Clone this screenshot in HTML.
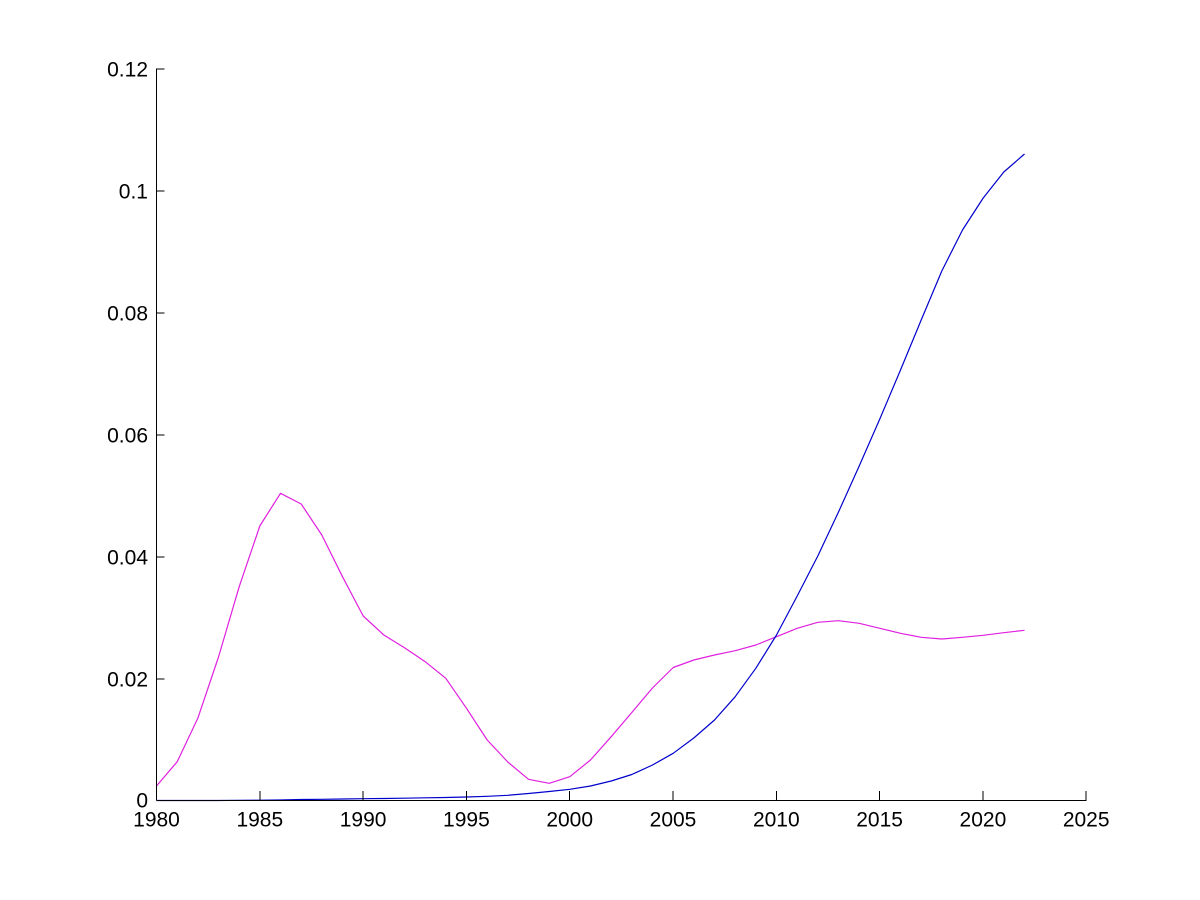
<!DOCTYPE html>
<html>
<head>
<meta charset="utf-8">
<style>
  html, body { margin: 0; padding: 0; background: #ffffff; }
  svg { display: block; }
  text { font-family: "Liberation Sans", Arial, sans-serif; font-size: 21px; fill: #000; }
</style>
</head>
<body>
<svg width="1200" height="900" viewBox="0 0 1200 900" xmlns="http://www.w3.org/2000/svg">
  <rect x="0" y="0" width="1200" height="900" fill="#ffffff"/>

  <!-- series: magenta -->
  <polyline fill="none" stroke="#e020e0" stroke-width="1.2" stroke-linejoin="round" points="
    156.5,786 177.2,761.7 197.8,718.3 218.5,657 239.2,586.7 259.8,526 280.5,493.3 301.2,504
    321.8,535 342.5,576.7 363.2,616 383.8,635 404.5,647.7 425.2,661.7 445.8,678.3 466.5,708.3
    487.2,740 507.8,762 528.5,779.3 549.2,783.3 569.8,776.7 590.5,760 611.2,736.7 631.8,712.5
    652.5,688 673.2,667.5 693.8,660 714.5,655 735.2,650.7 755.8,645 776.5,636.7 797.2,628.3
    817.8,622.3 838.5,620.7 859.2,623.3 879.8,628.3 900.5,633.3 921.2,637.3 941.8,639 962.5,637.3
    983.2,635.3 1003.8,632.7 1024.5,630.3"/>

  <!-- series: blue -->
  <polyline fill="none" stroke="#0000cc" stroke-width="1.2" stroke-linejoin="round" points="
    156.5,800.5 177.2,800.5 197.8,800.5 218.5,800.5 239.2,800.3 259.8,800.2 280.5,800 301.2,799.5
    321.8,799.3 342.5,799 363.2,798.7 383.8,798.5 404.5,798.2 425.2,797.8 445.8,797.5 466.5,797
    487.2,796.3 507.8,795.3 528.5,793.5 549.2,791.5 569.8,789.3 590.5,786 611.2,781 631.8,774.5
    652.5,765 673.2,753.3 693.8,738 714.5,720 735.2,696.7 755.8,668.3 776.5,635 797.2,596
    817.8,556 838.5,512 859.2,466 879.8,419 900.5,370 921.2,320 941.8,271 962.5,230
    983.2,198 1003.8,172 1024.5,154"/>

  <!-- axes -->
  <g stroke="#000" stroke-width="1" shape-rendering="crispEdges">
    <line x1="156.5" y1="68.5" x2="156.5" y2="800.5"/>
    <line x1="156.5" y1="800.5" x2="1086.5" y2="800.5"/>
    <!-- y ticks -->
    <line x1="156.5" y1="69" x2="164.5" y2="69"/>
    <line x1="156.5" y1="191" x2="164.5" y2="191"/>
    <line x1="156.5" y1="313" x2="164.5" y2="313"/>
    <line x1="156.5" y1="435" x2="164.5" y2="435"/>
    <line x1="156.5" y1="557" x2="164.5" y2="557"/>
    <line x1="156.5" y1="679" x2="164.5" y2="679"/>
    <!-- x ticks -->
    <line x1="259.8" y1="791" x2="259.8" y2="800.5"/>
    <line x1="363.1" y1="791" x2="363.1" y2="800.5"/>
    <line x1="466.4" y1="791" x2="466.4" y2="800.5"/>
    <line x1="569.7" y1="791" x2="569.7" y2="800.5"/>
    <line x1="673.0" y1="791" x2="673.0" y2="800.5"/>
    <line x1="776.3" y1="791" x2="776.3" y2="800.5"/>
    <line x1="879.6" y1="791" x2="879.6" y2="800.5"/>
    <line x1="982.9" y1="791" x2="982.9" y2="800.5"/>
    <line x1="1086.2" y1="791" x2="1086.2" y2="800.5"/>
  </g>

  <!-- y labels -->
  <g text-anchor="end">
    <text x="148" y="76.5">0.12</text>
    <text x="148" y="198.5">0.1</text>
    <text x="148" y="320.5">0.08</text>
    <text x="148" y="442.5">0.06</text>
    <text x="148" y="564.5">0.04</text>
    <text x="148" y="686.5">0.02</text>
    <text x="148" y="807.5">0</text>
  </g>

  <!-- x labels -->
  <g text-anchor="middle">
    <text x="156.5" y="826.5">1980</text>
    <text x="259.8" y="826.5">1985</text>
    <text x="363.1" y="826.5">1990</text>
    <text x="466.4" y="826.5">1995</text>
    <text x="569.7" y="826.5">2000</text>
    <text x="673.0" y="826.5">2005</text>
    <text x="776.3" y="826.5">2010</text>
    <text x="879.6" y="826.5">2015</text>
    <text x="982.9" y="826.5">2020</text>
    <text x="1086.2" y="826.5">2025</text>
  </g>
</svg>
</body>
</html>
